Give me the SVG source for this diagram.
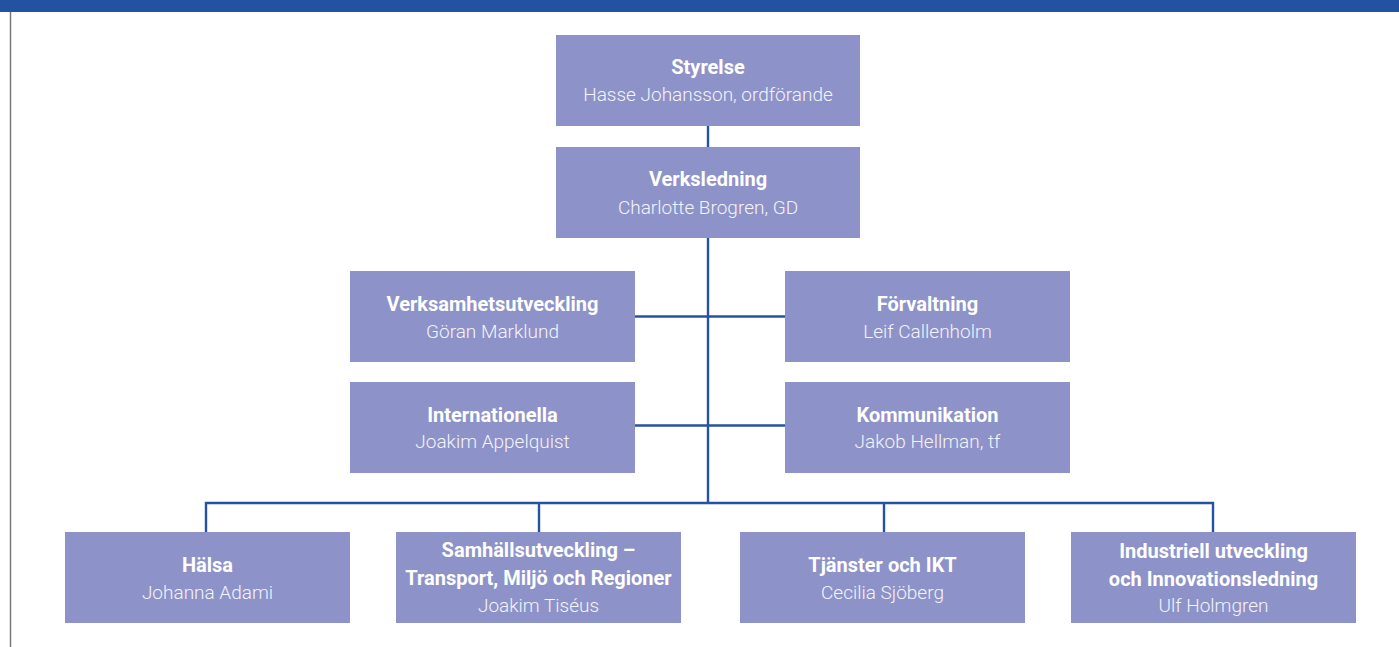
<svg xmlns="http://www.w3.org/2000/svg" width="1399" height="647" viewBox="0 0 1399 647">
<style>
.box{fill:#8d92c8}
.t{font-family:Roboto,"Liberation Sans",sans-serif;fill:#fff;text-anchor:middle}
.b{font-weight:bold;font-size:20px}
.r{font-weight:300;font-size:19px;fill:#f4f4fa}
.c{stroke:#2652a2;stroke-width:2.4;fill:none}
</style>
<rect x="0" y="0" width="1399" height="12" fill="#2352a0"/>
<line x1="10.5" y1="12" x2="10.5" y2="647" stroke="#7a7a7a" stroke-width="1.5"/>
<g id="connectors" class="c">
<line x1="708" y1="126" x2="708" y2="147"/>
<line x1="708" y1="238" x2="708" y2="503"/>
<line x1="635" y1="316.5" x2="785" y2="316.5"/>
<line x1="635" y1="425.5" x2="785" y2="425.5"/>
<polyline points="206,532 206,503 1213,503 1213,532"/>
<line x1="539" y1="503" x2="539" y2="532"/>
<line x1="884" y1="503" x2="884" y2="532"/>
</g>
<g id="styrelse"><rect class="box" x="556" y="35" width="304" height="91"/>
<text class="t b" x="708" y="74">Styrelse</text><text class="t r" x="708" y="101">Hasse Johansson, ordförande</text></g>
<g id="verksledning"><rect class="box" x="556" y="147" width="304" height="91"/>
<text class="t b" x="708" y="186">Verksledning</text><text class="t r" x="708" y="214">Charlotte Brogren, GD</text></g>
<g id="verksamhetsutveckling"><rect class="box" x="350" y="271" width="285" height="91"/>
<text class="t b" x="492.5" y="311">Verksamhetsutveckling</text><text class="t r" x="492.5" y="338">Göran Marklund</text></g>
<g id="forvaltning"><rect class="box" x="785" y="271" width="285" height="91"/>
<text class="t b" x="927.5" y="311">Förvaltning</text><text class="t r" x="927.5" y="338">Leif Callenholm</text></g>
<g id="internationella"><rect class="box" x="350" y="382" width="285" height="91"/>
<text class="t b" x="492.5" y="422">Internationella</text><text class="t r" x="492.5" y="448">Joakim Appelquist</text></g>
<g id="kommunikation"><rect class="box" x="785" y="382" width="285" height="91"/>
<text class="t b" x="927.5" y="422">Kommunikation</text><text class="t r" x="927.5" y="448">Jakob Hellman, tf</text></g>
<g id="halsa"><rect class="box" x="65" y="532" width="285" height="91"/>
<text class="t b" x="207.5" y="572">Hälsa</text><text class="t r" x="207.5" y="599">Johanna Adami</text></g>
<g id="samhallsutveckling"><rect class="box" x="396" y="532" width="285" height="91"/>
<text class="t b" x="538.5" y="557">Samhällsutveckling –</text><text class="t b" x="538.5" y="584.5">Transport, Miljö och Regioner</text><text class="t r" x="538.5" y="611.5">Joakim Tiséus</text></g>
<g id="tjanster"><rect class="box" x="740" y="532" width="285" height="91"/>
<text class="t b" x="882.5" y="572">Tjänster och IKT</text><text class="t r" x="882.5" y="599">Cecilia Sjöberg</text></g>
<g id="industriell"><rect class="box" x="1071" y="532" width="285" height="91"/>
<text class="t b" x="1213.5" y="557.5">Industriell utveckling</text><text class="t b" x="1213.5" y="585.5">och Innovationsledning</text><text class="t r" x="1213.5" y="611.5">Ulf Holmgren</text></g>
</svg>
